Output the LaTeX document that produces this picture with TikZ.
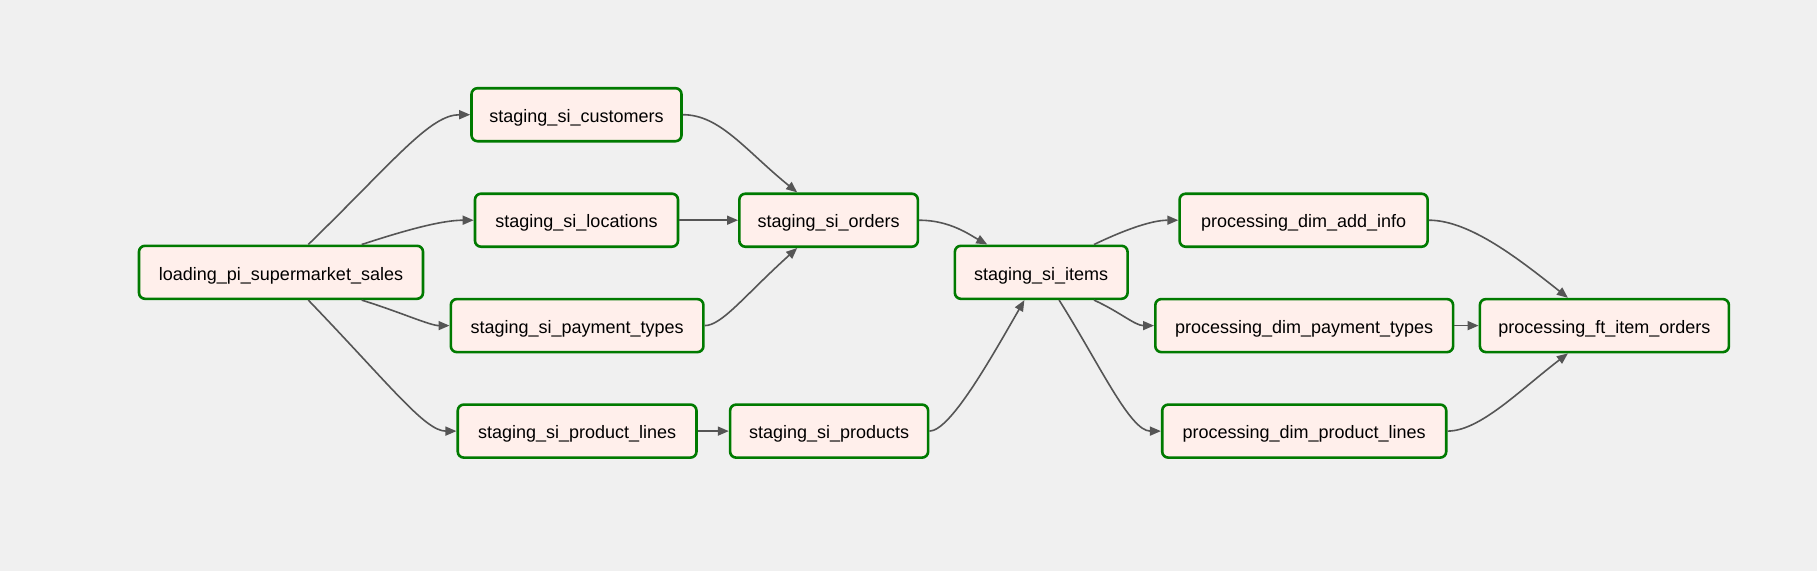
\documentclass[tikz,border=0pt]{standalone}
\usepackage{fontspec}
\setmainfont{Liberation Sans}
\usetikzlibrary{arrows.meta}
\definecolor{bgc}{HTML}{F0F0F0}
\definecolor{taskfill}{HTML}{FFEFEB}
\definecolor{taskborder}{HTML}{007A00}
\definecolor{edgec}{HTML}{555555}
\tikzset{
  task/.style={draw=taskborder, fill=taskfill, line width=2.6pt, rounded corners=6pt,
    minimum height=53pt, inner sep=0pt, text=black, text height=16pt, text depth=0.6pt,
    font=\fontsize{18}{22}\selectfont},
  edge/.style={draw=edgec, line width=1.6pt, -{Triangle[length=11pt,width=9pt]}}
}
\begin{document}
\begin{tikzpicture}[x=1pt,y=-1pt]
\fill[bgc] (0,0) rectangle (1817,571);
\useasboundingbox (0,0) rectangle (1817,571);

\node[task, minimum width=284pt] (load) at (281,272.3) {loading\_pi\_supermarket\_sales};
\node[task, minimum width=210pt] (cust) at (576.5,114.7) {staging\_si\_customers};
\node[task, minimum width=203pt] (loc) at (576.5,220.2) {staging\_si\_locations};
\node[task, minimum width=252.6pt] (pay) at (577.1,325.6) {staging\_si\_payment\_types};
\node[task, minimum width=238.7pt] (pl) at (577.1,431.1) {staging\_si\_product\_lines};
\node[task, minimum width=178.5pt] (ord) at (828.6,220.2) {staging\_si\_orders};
\node[task, minimum width=198pt] (prod) at (829.1,431.1) {staging\_si\_products};
\node[task, minimum width=172.7pt] (items) at (1041.2,272.3) {staging\_si\_items};
\node[task, minimum width=248pt] (addinfo) at (1303.6,220.2) {processing\_dim\_add\_info};
\node[task, minimum width=297.8pt] (dpt) at (1304.2,325.6) {processing\_dim\_payment\_types};
\node[task, minimum width=284pt] (dpl) at (1304.2,431.1) {processing\_dim\_product\_lines};
\node[task, minimum width=249pt] (ft) at (1604.4,325.6) {processing\_ft\_item\_orders};

% loading -> staging
\draw[edge] ([xshift=27.3pt]load.north) .. controls (395,160) and (430,114.7) .. (cust.west);
\draw[edge] ([xshift=80.7pt]load.north) .. controls (400,232) and (440,220.2) .. (loc.west);
\draw[edge] ([xshift=80.7pt]load.south) .. controls (400,312) and (430,325.6) .. (pay.west);
\draw[edge] ([xshift=27.3pt]load.south) .. controls (390,385) and (425,431.1) .. (pl.west);

% staging -> orders / products
\draw[edge] (cust.east) .. controls (720,114.7) and (745,150) .. ([xshift=-31.4pt]ord.north);
\draw[edge] (loc.east) -- (ord.west);
\draw[edge] (pay.east) .. controls (722,325.6) and (745,295) .. ([xshift=-31.4pt]ord.south);
\draw[edge] (pl.east) -- (prod.west);

% -> items
\draw[edge] (ord.east) .. controls (950,220.2) and (970,235) .. ([xshift=-53.9pt]items.north);
\draw[edge] (prod.east) .. controls (950,431.1) and (990,360) .. ([xshift=-16.8pt]items.south);

% items -> processing
\draw[edge] ([xshift=52.8pt]items.north) .. controls (1120,232) and (1150,220.2) .. (addinfo.west);
\draw[edge] ([xshift=52.8pt]items.south) .. controls (1120,312) and (1135,325.6) .. (dpt.west);
\draw[edge] ([xshift=17.9pt]items.south) .. controls (1100,365) and (1130,431.1) .. (dpl.west);

% processing -> ft
\draw[edge] (addinfo.east) .. controls (1470,220.2) and (1520,260) .. ([xshift=-36.5pt]ft.north);
\draw[edge] (dpt.east) -- (ft.west);
\draw[edge] (dpl.east) .. controls (1480,431.1) and (1520,390) .. ([xshift=-36.5pt]ft.south);
\end{tikzpicture}
\end{document}
